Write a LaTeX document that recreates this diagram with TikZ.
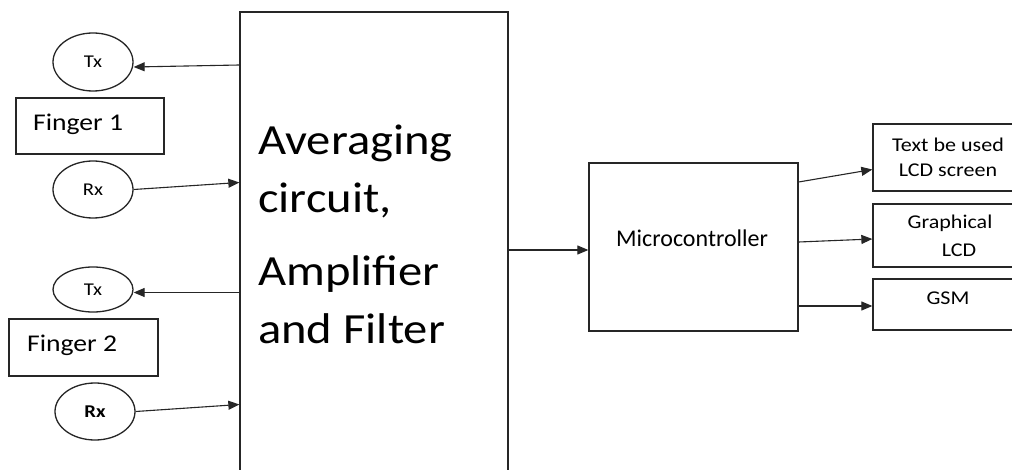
\documentclass[tikz,border=0pt]{standalone}
\usepackage{fontspec}
\setmainfont{Carlito}
\usepackage{graphicx}
\usetikzlibrary{shapes.geometric,arrows.meta,calc}
\newcommand{\myhs}[2]{\scalebox{#1}[1]{#2}}
\begin{document}
\begin{tikzpicture}[x=1pt,y=-1pt,
  line/.style={draw=black!85, line width=1.3pt},
  box/.style={line, rectangle, inner sep=0pt},
  ell/.style={line, ellipse, inner sep=0pt, minimum width=80pt, font=\fontsize{18}{18}\selectfont},
  arr/.style={draw=black!85, line width=1.1pt, -{Triangle[length=11pt,width=9pt]}},
  lbl/.style={inner sep=0pt, text=black},
  bigtxt/.style={lbl, anchor=base west, font=\fontsize{43}{43}\selectfont},
  smalltxt/.style={lbl, anchor=base, font=\fontsize{19.5}{19.5}\selectfont},
  midtxt/.style={lbl, anchor=base west, font=\fontsize{24}{24}\selectfont}]
\useasboundingbox[fill=white] (0,0) rectangle (1012,470);

% left side
\node[ell, minimum height=58pt] (tx1) at (93,62) {\myhs{1.15}{Tx}};
\node[box, minimum width=148pt, minimum height=56pt] (f1) at (90,126) {};
\node[midtxt] (f1t) at (33,131) {\myhs{1.15}{Finger 1}};
\node[ell, minimum height=57pt] (rx1) at (93,189.5) {\myhs{1.15}{Rx}};

\node[ell, minimum height=45pt] (tx2) at (93,289.5) {\myhs{1.15}{Tx}};
\node[box, minimum width=149pt, minimum height=57pt] (f2) at (83.5,347.5) {};
\node[midtxt] (f2t) at (27,352) {\myhs{1.15}{Finger 2}};
\node[ell, minimum height=57pt] (rx2) at (95,411.5) {\myhs{1.15}{\bfseries Rx}};

% big block
\node[box, minimum width=268pt, minimum height=466pt] (big) at (374,245) {};
\node[bigtxt] (b1) at (258,155) {\myhs{1.13}{Averaging}};
\node[bigtxt] (b2) at (258,213) {\myhs{1.13}{circuit,}};
\node[bigtxt] (b3) at (258,286) {\myhs{1.13}{Amplifier}};
\node[bigtxt] (b4) at (258,343) {\myhs{1.13}{and Filter}};

% microcontroller
\node[box, minimum width=209pt, minimum height=168pt] (micro) at (693.5,247) {};
\node[midtxt] (mt) at (616,247) {Microcontroller};

% outputs
\node[box, minimum width=143pt, minimum height=67pt] (tb) at (944.5,157.5) {};
\node[smalltxt] (tb1) at (948,152) {\myhs{1.13}{Text be used}};
\node[smalltxt] (tb2) at (948,177) {\myhs{1.13}{LCD screen}};
\node[box, minimum width=143pt, minimum height=63pt] (gl) at (944.5,235.5) {};
\node[smalltxt] (gl1) at (950,229) {\myhs{1.13}{Graphical}};
\node[smalltxt] (gl2) at (959,257) {\myhs{1.13}{LCD}};
\node[box, minimum width=143pt, minimum height=51pt] (gsm) at (944.5,304.5) {};
\node[smalltxt] (gsmt) at (948,305) {\myhs{1.13}{GSM}};

% connectors
\draw[arr] ($(big.west |- tx1.east)+(0,3)$) -- ($(tx1.east)+(0,5)$);
\draw[arr] (rx1.east) -- ($(big.west |- rx1.east)+(0,-7)$);
\draw[arr] ($(big.west |- tx2.east)+(0,3)$) -- ($(tx2.east)+(0,3)$);
\draw[arr] (rx2.east) -- ($(big.west |- rx2.east)+(0,-7)$);
\draw[arr] ($(big.east |- micro.west)+(0,3)$) -- ($(micro.west)+(0,3)$);
\draw[arr] ($(micro.east)+(0,-65)$) -- ($(tb.west)+(0,12)$);
\draw[arr] ($(micro.east)+(0,-5)$) -- ($(gl.west)+(0,3.5)$);
\draw[arr] ($(micro.east |- gsm.west)+(0,1.5)$) -- ($(gsm.west)+(0,1.5)$);
\end{tikzpicture}
\end{document}
